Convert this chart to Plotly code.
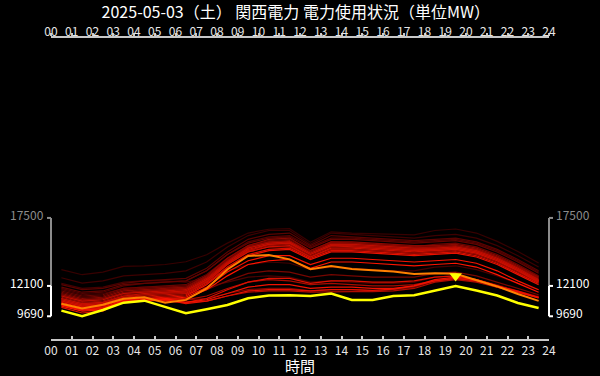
import plotly.graph_objects as go

TITLE = "2025-05-03（土） 関西電力 電力使用状況（単位MW）"
X_TITLE = "時間"
HOURS = [0.5, 1.5, 2.5, 3.5, 4.5, 5.5, 6.5, 7.5, 8.5, 9.5, 10.5, 11.5,
         12.5, 13.5, 14.5, 15.5, 16.5, 17.5, 18.5, 19.5, 20.5, 21.5, 22.5, 23.5]
X_TICKS = list(range(25))
X_TICK_LABELS = ["00", "01", "02", "03", "04", "05", "06", "07", "08", "09", "10", "11",
                 "12", "13", "14", "15", "16", "17", "18", "19", "20", "21", "22", "23", "24"]
Y_TICKS = [9690, 12100, 17500]

# past days (oldest first)
PAST_DAYS = [
    [13390,12990,13200,13650,13700,13800,14020,14580,15500,16300,16600,16650,15560,16400,16300,16250,16200,16150,16500,16620,16300,15640,14840,13920],
    [12750,12330,12500,12900,13000,13100,13300,14000,15200,16100,16500,16500,15400,16300,16200,16100,16000,15900,16100,16200,15900,15300,14500,13600],
    [12300,11900,12000,12400,12500,12500,12400,12700,13300,13800,14000,13900,13400,13600,13500,13400,13300,13300,13600,13700,13400,12900,12300,11800],
    [11800,11400,11500,11900,12000,12000,11900,12000,12400,12800,12900,12800,12400,12500,12400,12300,12300,12400,12800,12900,12600,12200,11700,11300],
    [11900,11500,11600,12100,12300,12400,12500,13300,14600,15600,16000,16100,15200,15900,15900,15800,15700,15600,15700,15800,15500,14900,14100,13200],
    [12200,11800,11900,12300,12500,12600,12700,13500,14800,15800,16200,16300,15300,16100,16000,15900,15800,15700,15800,15900,15600,15000,14200,13300],
    [12000,11600,11700,12200,12300,12400,12500,13300,14600,15500,15900,16000,15100,15800,15800,15700,15600,15500,15600,15700,15400,14800,14000,13100],
    [11700,11300,11400,11900,12000,12100,12200,13000,14300,15300,15700,15800,14900,15600,15500,15400,15300,15200,15400,15500,15200,14600,13800,12900],
    [11600,11200,11300,11800,11900,12000,12100,12900,14200,15200,15600,15600,14800,15500,15400,15300,15200,15100,15200,15300,15000,14400,13600,12800],
    [11400,11000,11100,11500,11600,11600,11500,11800,12500,13100,13300,13200,12800,13000,12900,12800,12800,12800,13100,13200,12900,12400,11900,11400],
    [10900,10500,10600,11100,11200,11200,11000,11100,11500,11800,11900,11900,11700,11800,11800,11700,11800,12000,12500,12700,12500,12100,11700,11200],
    [11300,10900,11000,11500,11700,11800,11900,12800,14100,15100,15500,15600,14700,15400,15300,15200,15100,15000,15100,15200,14900,14300,13500,12600],
    [11500,11100,11200,11700,11800,11900,12000,12900,14300,15300,15800,15900,14900,15600,15600,15500,15400,15300,15300,15400,15100,14500,13700,12800],
    [11400,11000,11100,11600,11700,11800,11900,12800,14100,15200,15600,15700,14800,15500,15500,15400,15300,15200,15200,15300,15000,14400,13600,12700],
    [11200,10800,10900,11400,11500,11600,11700,12600,13900,14900,15300,15400,14500,15200,15200,15100,15000,14900,14900,15000,14700,14100,13300,12500],
    [11100,10700,10800,11300,11400,11500,11600,12500,13800,14800,15200,15200,14400,15000,15000,14900,14800,14700,14800,14900,14600,14000,13200,12400],
    [10900,10500,10600,11000,11100,11100,11000,11300,11900,12400,12600,12500,12200,12300,12200,12100,12100,12200,12500,12700,12500,12000,11600,11200],
    [10700,10300,10400,10900,11000,11000,10800,10900,11300,11600,11700,11700,11600,11650,11650,11650,11700,11900,12400,12600,12400,12000,11600,11150],
    [11000,10600,10700,11200,11400,11500,11600,12500,13900,14900,15400,15500,14600,15300,15300,15200,15100,15000,15000,15100,14800,14200,13400,12500],
    [11300,10900,11000,11500,11600,11700,11800,12700,14000,15100,15500,15600,14700,15400,15400,15300,15200,15100,15100,15200,14900,14300,13500,12600],
    [11100,10700,10800,11300,11500,11600,11700,12600,13900,15000,15400,15500,14600,15300,15200,15100,15000,14900,15000,15100,14800,14200,13400,12500],
    [11000,10600,10700,11200,11300,11400,11500,12400,13800,14800,15200,15300,14400,15100,15100,15000,14900,14800,14900,15000,14700,14100,13300,12400],
    [10900,10500,10600,11100,11200,11300,11400,12300,13600,14600,15000,15100,14300,14900,14900,14800,14700,14600,14700,14800,14500,13900,13100,12300],
    [10700,10300,10400,10900,11000,10900,10800,11100,11800,12400,12700,12700,12300,12500,12500,12400,12400,12500,12800,12900,12600,12100,11600,11200],
    [10400,9950,10100,11000,11100,11000,10700,10900,11300,11700,11800,11800,11700,11800,11800,11750,11850,12100,12500,12700,12500,12100,11700,11200],
    [10800,10400,10500,11000,11100,11200,11300,12200,13500,14500,14900,15000,14200,14800,14800,14700,14600,14500,14600,14700,14400,13800,13000,12200],
    [10600,10200,10300,11000,11100,11000,10800,11000,11500,12000,12200,12200,11900,12000,12000,11900,11900,12100,12600,12800,12600,12100,11600,11150],
    [10600,10200,10300,10900,11000,11100,11200,12000,13200,14100,14500,14500,13800,14300,14300,14200,14100,14000,14100,14200,13900,13300,12500,11800],
    [10500,10100,10200,10800,10900,11000,11100,11800,12900,13800,14100,14200,13500,14000,14000,13900,13800,13700,13800,13900,13600,13000,12300,11600],
]
YESTERDAY = [10680,10310,10600,11080,11200,10760,10990,11900,13410,14480,14560,14210,
             13430,13690,13450,13370,13240,13050,13110,13060,12580,12060,11460,10910]
TODAY = [10140,9690,10190,10770,10930,10430,9930,10250,10590,11120,11340,11360,
         11300,11490,10990,10990,11300,11360,11730,12100,11730,11340,10750,10350]

Y_RANGE = [7885, 31790]
FONT = "Noto Sans CJK JP"

fig = go.Figure()
n = len(PAST_DAYS)
for k, vals in enumerate(PAST_DAYS):
    r = int(55 + (255 - 55) * k / (n - 1))
    g = int(20 * k / (n - 1))
    fig.add_trace(go.Scatter(x=HOURS, y=vals, mode="lines",
                             line=dict(color=f"rgb({r},{g},0)", width=1.2),
                             hoverinfo="skip", showlegend=False))
fig.add_trace(go.Scatter(x=HOURS, y=YESTERDAY, mode="lines",
                         line=dict(color="#ff8000", width=2), hoverinfo="skip", showlegend=False))
fig.add_trace(go.Scatter(x=HOURS, y=TODAY, mode="lines",
                         line=dict(color="#ffff00", width=2.5), hoverinfo="skip", showlegend=False))

# peak marker slightly above today's peak
plot_h = 376 - 38 - 37
peak_i = max(range(len(TODAY)), key=lambda i: TODAY[i])
off = 10 * (Y_RANGE[1] - Y_RANGE[0]) / plot_h
fig.add_trace(go.Scatter(x=[HOURS[peak_i]], y=[TODAY[peak_i] + off], mode="markers",
                         marker=dict(symbol="triangle-down", size=11, color="#ffff00"),
                         hoverinfo="skip", showlegend=False))
# dummy for top axis
fig.add_trace(go.Scatter(x=[0, 24], y=[None, None], xaxis="x2", showlegend=False, hoverinfo="skip"))

axis_common = dict(range=[0, 24], tickmode="array", tickvals=X_TICKS, ticktext=X_TICK_LABELS,
                   showgrid=False, zeroline=False, showline=True, linecolor="#c8c8c8", linewidth=1.5,
                   tickcolor="#c8c8c8", ticklen=3, tickwidth=1.5, automargin=False, tickangle=0,
                   tickfont=dict(family=FONT, size=12, color="#e6e6e6"))

fig.update_layout(
    width=600, height=376,
    margin=dict(l=51, r=51, t=38, b=37, autoexpand=False),
    paper_bgcolor="#000000", plot_bgcolor="#000000",
    title=dict(text=TITLE, x=0.493, xanchor="center", y=1 - 12.7 / 376, yanchor="middle",
               automargin=False, font=dict(family=FONT, size=16, color="#ffffff")),
    xaxis=dict(**axis_common, ticks="inside", side="bottom"),
    xaxis2=dict(**axis_common, ticks="outside", side="top", overlaying="x", ticklabelstandoff=-8),
    yaxis=dict(range=Y_RANGE, showgrid=False, zeroline=False, showticklabels=False, showline=False,
               automargin=False),
    hovermode=False,
)

GREY = "#8c8c8c"
tick_colors = {Y_TICKS[0]: "#ffffff", Y_TICKS[1]: "#ffffff", Y_TICKS[2]: GREY}
shapes = []
for xa, sgn in ((0, -1), (1, 1)):
    shapes.append(dict(type="line", xref="paper", yref="y", x0=xa, x1=xa,
                       y0=Y_TICKS[0], y1=Y_TICKS[1], line=dict(color="#ffffff", width=2)))
    shapes.append(dict(type="line", xref="paper", yref="y", x0=xa, x1=xa,
                       y0=Y_TICKS[1], y1=Y_TICKS[2], line=dict(color=GREY, width=2)))
    for t in Y_TICKS:
        shapes.append(dict(type="line", xref="paper", yref="y", xsizemode="pixel", xanchor=xa,
                           x0=0, x1=4 * sgn, y0=t, y1=t, line=dict(color=tick_colors[t], width=2)))
fig.update_layout(shapes=shapes)

ann = []
for t in Y_TICKS:
    ann.append(dict(x=0, y=t, xref="paper", yref="y", text=str(t), showarrow=False,
                    xanchor="right", yanchor="middle", xshift=-5, yshift=3.5,
                    font=dict(family=FONT, size=12, color=tick_colors[t])))
    ann.append(dict(x=1, y=t, xref="paper", yref="y", text=str(t), showarrow=False,
                    xanchor="left", yanchor="middle", xshift=5, yshift=3.5,
                    font=dict(family=FONT, size=12, color=tick_colors[t])))
ann.append(dict(x=0.5, y=0, xref="paper", yref="paper", text=X_TITLE, showarrow=False,
                xanchor="center", yanchor="middle", yshift=-26,
                font=dict(family=FONT, size=15, color="#ffffff")))
fig.update_layout(annotations=ann)

fig.write_html("out.html", config={"displayModeBar": False},
               post_script="document.body.style.margin='0';document.body.style.background='#000';")
